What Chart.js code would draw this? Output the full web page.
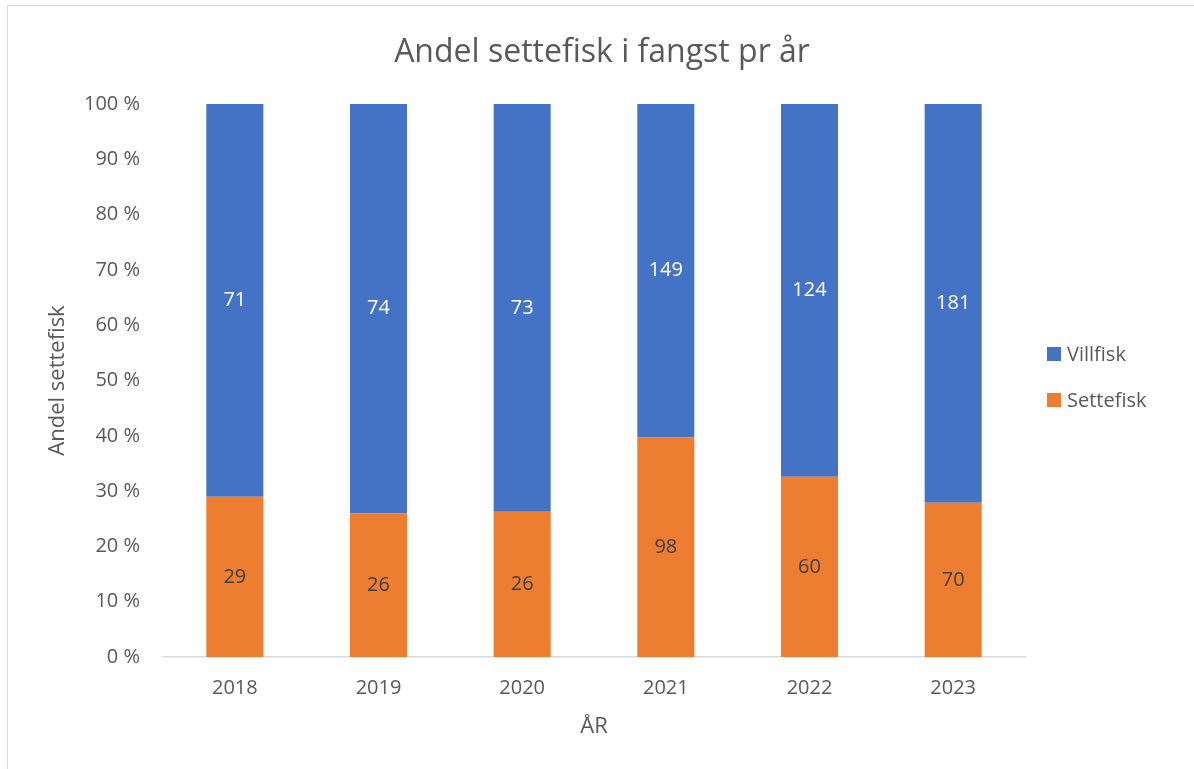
<!DOCTYPE html>
<html>
<head>
<meta charset="utf-8">
<script src="https://cdn.jsdelivr.net/npm/chart.js@4"></script>
<style>
  html, body { margin: 0; padding: 0; background: #fff; }
  #wrap { position: relative; width: 1194px; height: 769px; overflow: hidden; }
  #frame { position: absolute; left: 7px; top: 5px; width: 1300px; height: 900px;
           border-left: 1.5px solid #d9d9d9; border-top: 1.5px solid #d9d9d9; }
  canvas { position: absolute; left: 0; top: 0; }
  #title { position: absolute; left: 0; width: 1204px; top: 28px; text-align: center;
           font-family: "Open Sans", sans-serif; font-size: 32px; line-height: 44px; color: #595959; }
  .legend { position: absolute; left: 1047px; font-family: "Open Sans", sans-serif;
            font-size: 20px; line-height: 28px; color: #595959; display: flex; align-items: center; }
  .legend span.box { display: inline-block; width: 14px; height: 14px; margin-right: 6px; }
</style>
</head>
<body>
<div id="wrap">
  <div id="frame"></div>
  <canvas id="chart" width="1194" height="769"></canvas>
  <div id="title">Andel settefisk i fangst pr år</div>
  <div class="legend" style="top:340px"><span class="box" style="background:#4472C4"></span>Villfisk</div>
  <div class="legend" style="top:386px"><span class="box" style="background:#ED7D31"></span>Settefisk</div>
</div>
<script>
const years = ['2018', '2019', '2020', '2021', '2022', '2023'];
const settefisk = [29, 26, 26, 98, 60, 70];
const villfisk = [71, 74, 73, 149, 124, 181];

const totals = years.map((_, i) => settefisk[i] + villfisk[i]);
const settePct = settefisk.map((v, i) => v / totals[i] * 100);
const villPct = villfisk.map((v, i) => v / totals[i] * 100);

const fontFamily = '"Open Sans", sans-serif';
const grey = '#595959';

// draw the counts in the middle of each segment
const countLabels = {
  id: 'countLabels',
  afterDatasetsDraw(chart) {
    const ctx = chart.ctx;
    ctx.save();
    ctx.font = '20px ' + fontFamily;
    ctx.textAlign = 'center';
    ctx.textBaseline = 'middle';
    chart.data.datasets.forEach((ds, di) => {
      const meta = chart.getDatasetMeta(di);
      meta.data.forEach((bar, i) => {
        const y = (bar.y + bar.base) / 2;
        ctx.fillStyle = ds.labelColor;
        ctx.fillText(String(ds.counts[i]), bar.x, y);
      });
    });
    ctx.restore();
  }
};

new Chart(document.getElementById('chart'), {
  type: 'bar',
  data: {
    labels: years,
    datasets: [
      {
        label: 'Settefisk',
        data: settePct,
        counts: settefisk,
        labelColor: '#404040',
        backgroundColor: '#ED7D31',
        categoryPercentage: 1,
        barPercentage: 0.397
      },
      {
        label: 'Villfisk',
        data: villPct,
        counts: villfisk,
        labelColor: '#ffffff',
        backgroundColor: '#4472C4',
        categoryPercentage: 1,
        barPercentage: 0.397
      }
    ]
  },
  options: {
    responsive: false,
    animation: false,
    layout: { padding: { left: 8, right: 169, top: 104, bottom: 0 } },
    plugins: {
      legend: { display: false },
      tooltip: { enabled: false }
    },
    scales: {
      x: {
        stacked: true,
        grid: { display: false, drawTicks: false },
        border: { display: true, color: '#d9d9d9', width: 1.5 },
        ticks: { color: grey, font: { family: fontFamily, size: 20 }, padding: 19 },
        title: {
          display: true, text: 'ÅR', color: grey,
          font: { family: fontFamily, size: 22, lineHeight: 1.2 },
          padding: { top: 0, bottom: 29 }
        },
        afterFit: scale => { scale.height = 112; }
      },
      y: {
        stacked: true,
        min: 0,
        max: 100,
        grid: { display: false, drawTicks: false },
        border: { display: false },
        ticks: {
          stepSize: 10,
          color: grey,
          padding: 23,
          font: { family: fontFamily, size: 20 },
          callback: v => v + ' %'
        },
        title: {
          display: true, text: 'Andel settefisk', color: grey,
          font: { family: fontFamily, size: 22, lineHeight: 1.2 },
          padding: { top: 37, bottom: 0 }
        },
        afterFit: scale => { scale.width = 155; }
      }
    }
  },
  plugins: [countLabels]
});
</script>
</body>
</html>
